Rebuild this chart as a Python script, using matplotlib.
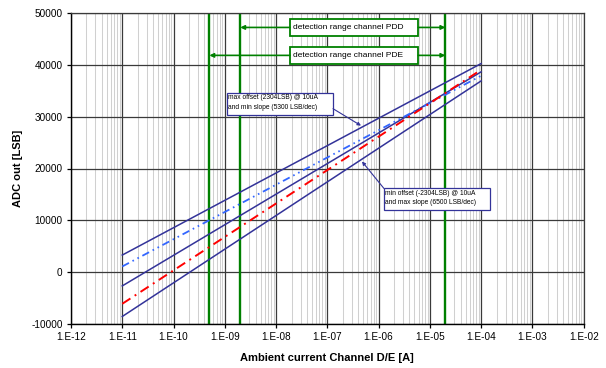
import numpy as np
import matplotlib
matplotlib.use("Agg")
import matplotlib.pyplot as plt
from matplotlib.ticker import FixedLocator, FuncFormatter, LogLocator, NullFormatter
from matplotlib.patches import Rectangle

plt.rcParams.update({"font.family": ["Liberation Sans", "DejaVu Sans"]})

# series: ADC output at the two ends of the current sweep
x_ends = [1e-11, 1e-4]
max_off_min_slope = [3300, 40250]
nom_off_min_slope = [1100, 37900]
nominal = [-2650, 38650]
nom_off_max_slope = [-6100, 39050]
min_off_max_slope = [-8550, 36900]

# detection range markers
range_lines = [5e-10, 2e-9, 2e-5]
pdd_range = [2e-9, 2e-5]
pde_range = [5e-10, 2e-5]

x_ticks = [10.0 ** e for e in range(-12, -1)]
y_ticks = [-10000, 0, 10000, 20000, 30000, 40000, 50000]

NAVY = "#333399"; LBLUE = "#3366ff"; RED = "#ff0000"; GREEN = "#008000"

fig = plt.figure(figsize=(6.06, 3.68), dpi=100)
ax = fig.add_axes([71 / 606, 1 - 324 / 368, 512.7 / 606, 311 / 368])
ax.set_xscale("log")
ax.set_xlim(1e-12, 1e-2); ax.set_ylim(-10000, 50000)

ax.xaxis.set_major_locator(FixedLocator(x_ticks))
ax.xaxis.set_major_formatter(FuncFormatter(lambda v, p: "1.E-%02d" % round(-np.log10(v))))
ax.xaxis.set_minor_locator(LogLocator(base=10, subs=range(2, 10), numticks=100))
ax.xaxis.set_minor_formatter(NullFormatter())
ax.yaxis.set_major_locator(FixedLocator(y_ticks))
ax.yaxis.set_major_formatter(FuncFormatter(lambda v, p: "%d" % v))

ax.grid(which="minor", axis="x", color="#d0d0d0", lw=0.75)
ax.grid(which="major", color="#3a3a3a", lw=0.9)
ax.set_axisbelow(True)
ax.tick_params(which="minor", length=0)
ax.tick_params(which="major", direction="out", length=3, width=0.9, labelsize=7.2, pad=3)
for s in ["top", "right"]:
    ax.spines[s].set_color("#3a3a3a"); ax.spines[s].set_linewidth(0.9)
for s in ["left", "bottom"]:
    ax.spines[s].set_color("black"); ax.spines[s].set_linewidth(1.0)

for xv in range_lines:
    ax.axvline(xv, color=GREEN, lw=1.7, zorder=2)

ax.plot(x_ends, max_off_min_slope, color=NAVY, lw=1.1, zorder=3)
ax.plot(x_ends, nominal, color=NAVY, lw=1.1, zorder=3)
ax.plot(x_ends, min_off_max_slope, color=NAVY, lw=1.1, zorder=3)
ax.plot(x_ends, nom_off_min_slope, color=LBLUE, lw=1.3, dashes=(4.2, 2.2, 0.9, 2.2, 0.9, 2.2), zorder=3)
ax.plot(x_ends, nom_off_max_slope, color=RED, lw=1.4, dashes=(5.0, 2.6, 1.0, 2.6), zorder=3)

# detection range boxes
for rng, yb, label in [(pdd_range, 45580, "detection range channel PDD"),
                       (pde_range, 40190, "detection range channel PDE")]:
    bx0, bx1, bh = 1.86e-8, 5.9e-6, 3270
    ax.add_patch(Rectangle((bx0, yb), bx1 - bx0, bh, facecolor="white", edgecolor=GREEN, lw=1.3, zorder=4))
    ax.text(bx0 * 1.15, yb + bh / 2, label, fontsize=6, va="center", ha="left", zorder=5)
    ym = yb + bh / 2
    for tip, tail in [(rng[0], bx0), (rng[1], bx1)]:
        ax.annotate("", xy=(tip, ym), xytext=(tail, ym), zorder=5,
                    arrowprops=dict(arrowstyle="-|>", color=GREEN, lw=1.2, mutation_scale=6, shrinkA=0, shrinkB=0))

# offset / slope callouts
callouts = [((1.1e-9, 30380), (1.29e-7, 34620), "max offset (2304LSB) @ 10uA\nand min slope (5300 LSB/dec)",
             (1.29e-7, 31540), (4.53e-7, 28270)),
            ((1.27e-6, 11920), (1.49e-4, 16150), "min offset (-2304LSB) @ 10uA\nand max slope (6500 LSB/dec)",
             (1.27e-6, 16150), (4.74e-7, 21350))]
for (x0, y0), (x1, y1), txt, tail, tip in callouts:
    ax.add_patch(Rectangle((x0, y0), x1 - x0, y1 - y0, facecolor="white", edgecolor=NAVY, lw=0.9, zorder=4))
    ax.text(x0 * 1.05, (y0 + y1) / 2 + 250, txt, fontsize=4.8, va="center", ha="left", linespacing=1.45, zorder=5)
    ax.annotate("", xy=tip, xytext=tail, zorder=5,
                arrowprops=dict(arrowstyle="-|>", color=NAVY, lw=0.8, mutation_scale=5, shrinkA=0, shrinkB=0))

ax.set_xlabel("Ambient current Channel D/E [A]", fontsize=8, fontweight="bold", labelpad=8)
ax.set_ylabel("ADC out [LSB]", fontsize=8, fontweight="bold", labelpad=6)

fig.savefig("out.png", dpi=100)
